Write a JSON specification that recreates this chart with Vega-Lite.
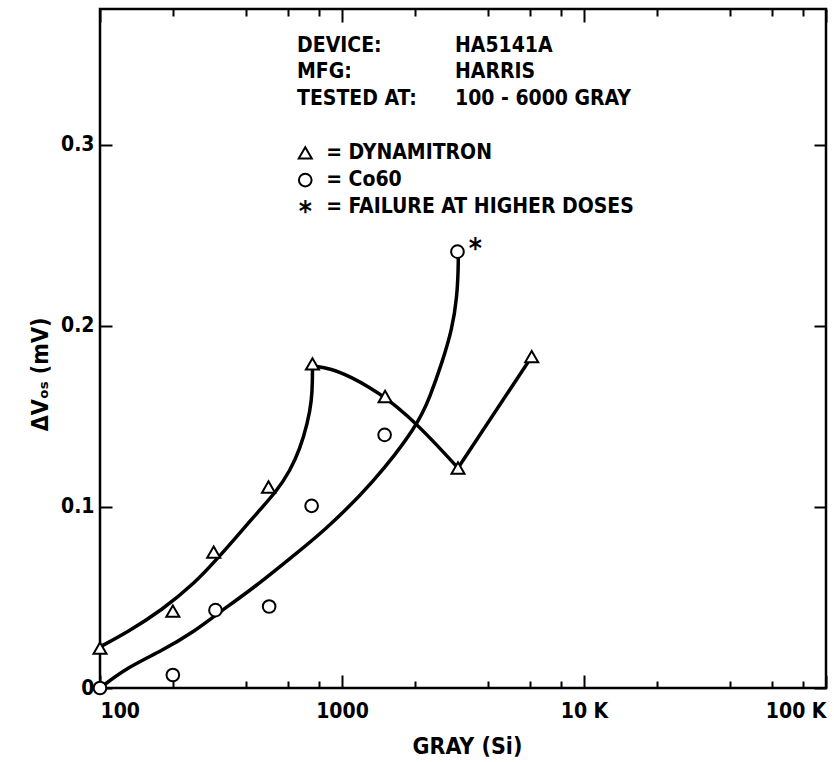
{
  "$schema": "https://vega.github.io/schema/vega-lite/v6.json",
  "width": 726,
  "height": 679,
  "autosize": {"type": "none"},
  "padding": {"left": 100, "top": 9, "right": 8, "bottom": 74},
  "background": "white",
  "config": {
    "view": {"stroke": "black", "strokeWidth": 2.5},
    "axis": {
      "domain": false,
      "grid": false,
      "tickColor": "black",
      "tickWidth": 2,
      "labelColor": "black",
      "titleColor": "black",
      "labelFont": "DejaVu Sans Condensed",
      "titleFont": "DejaVu Sans Condensed",
      "labelFontWeight": "bold",
      "titleFontWeight": "bold",
      "labelFontSize": 21,
      "titleFontSize": 23,
      "labelOverlap": false
    },
    "text": {"font": "DejaVu Sans Condensed", "fontWeight": "bold", "fontSize": 21, "color": "black"}
  },
  "datasets": {
    "curves": [
      {"s": "dyn1", "i": 1, "x": 100, "y": 0.0227},
      {"s": "dyn1", "i": 2, "x": 130.5, "y": 0.031},
      {"s": "dyn1", "i": 3, "x": 180, "y": 0.043},
      {"s": "dyn1", "i": 4, "x": 247, "y": 0.058},
      {"s": "dyn1", "i": 5, "x": 307, "y": 0.0718},
      {"s": "dyn1", "i": 6, "x": 361, "y": 0.0825},
      {"s": "dyn1", "i": 7, "x": 446, "y": 0.0967},
      {"s": "dyn1", "i": 8, "x": 538, "y": 0.1088},
      {"s": "dyn1", "i": 9, "x": 610, "y": 0.1200},
      {"s": "dyn1", "i": 10, "x": 670, "y": 0.1320},
      {"s": "dyn1", "i": 11, "x": 720, "y": 0.1460},
      {"s": "dyn1", "i": 12, "x": 750, "y": 0.1590},
      {"s": "dyn1", "i": 13, "x": 755, "y": 0.1700},
      {"s": "dyn1", "i": 14, "x": 755, "y": 0.178},
      {"s": "dyn2", "i": 1, "x": 755, "y": 0.178},
      {"s": "dyn2", "i": 2, "x": 900, "y": 0.1765},
      {"s": "dyn2", "i": 3, "x": 1100, "y": 0.1715},
      {"s": "dyn2", "i": 4, "x": 1300, "y": 0.1660},
      {"s": "dyn2", "i": 5, "x": 1507, "y": 0.1605},
      {"s": "dyn2", "i": 6, "x": 1850, "y": 0.1510},
      {"s": "dyn2", "i": 7, "x": 2400, "y": 0.1360},
      {"s": "dyn2", "i": 8, "x": 3015, "y": 0.1215},
      {"s": "dyn3", "i": 1, "x": 3015, "y": 0.1215},
      {"s": "dyn3", "i": 2, "x": 6080, "y": 0.183},
      {"s": "co60", "i": 1, "x": 100, "y": 0.0},
      {"s": "co60", "i": 2, "x": 130.5, "y": 0.0116},
      {"s": "co60", "i": 3, "x": 180, "y": 0.0205},
      {"s": "co60", "i": 4, "x": 247, "y": 0.0315},
      {"s": "co60", "i": 5, "x": 298, "y": 0.0400},
      {"s": "co60", "i": 6, "x": 437, "y": 0.0558},
      {"s": "co60", "i": 7, "x": 598, "y": 0.0707},
      {"s": "co60", "i": 8, "x": 834, "y": 0.0860},
      {"s": "co60", "i": 9, "x": 1343, "y": 0.1130},
      {"s": "co60", "i": 10, "x": 2060, "y": 0.1453},
      {"s": "co60", "i": 11, "x": 2312, "y": 0.1610},
      {"s": "co60", "i": 12, "x": 2589, "y": 0.1796},
      {"s": "co60", "i": 13, "x": 2850, "y": 0.1980},
      {"s": "co60", "i": 14, "x": 2990, "y": 0.2160},
      {"s": "co60", "i": 15, "x": 3025, "y": 0.2330},
      {"s": "co60", "i": 16, "x": 3025, "y": 0.241}
    ],
    "points": [
      {"src": "DYNAMITRON", "x": 100, "y": 0.022},
      {"src": "DYNAMITRON", "x": 200, "y": 0.0425},
      {"src": "DYNAMITRON", "x": 295, "y": 0.075},
      {"src": "DYNAMITRON", "x": 497, "y": 0.111},
      {"src": "DYNAMITRON", "x": 755, "y": 0.179},
      {"src": "DYNAMITRON", "x": 1507, "y": 0.161},
      {"src": "DYNAMITRON", "x": 3015, "y": 0.1215},
      {"src": "DYNAMITRON", "x": 6080, "y": 0.183},
      {"src": "Co60", "x": 100, "y": 0.0},
      {"src": "Co60", "x": 200, "y": 0.0072},
      {"src": "Co60", "x": 300, "y": 0.043},
      {"src": "Co60", "x": 500, "y": 0.045},
      {"src": "Co60", "x": 749, "y": 0.1006},
      {"src": "Co60", "x": 1500, "y": 0.1398},
      {"src": "Co60", "x": 3000, "y": 0.241},
      {"src": "DYNAMITRON", "x": 705, "y": 0.2955},
      {"src": "Co60", "x": 705, "y": 0.2805}
    ],
    "notes": [
      {"x": 652, "y": 0.3545, "t": "DEVICE:"},
      {"x": 2930, "y": 0.3545, "t": "HA5141A"},
      {"x": 652, "y": 0.3400, "t": "MFG:"},
      {"x": 2930, "y": 0.3400, "t": "HARRIS"},
      {"x": 652, "y": 0.3255, "t": "TESTED AT:"},
      {"x": 2930, "y": 0.3255, "t": "100 - 6000 GRAY"},
      {"x": 860, "y": 0.2955, "t": "= DYNAMITRON"},
      {"x": 860, "y": 0.2805, "t": "= Co60"},
      {"x": 860, "y": 0.2655, "t": "= FAILURE AT HIGHER DOSES"}
    ],
    "stars": [
      {"x": 705, "y": 0.2655},
      {"x": 3560, "y": 0.2450}
    ]
  },
  "layer": [
    {
      "encoding": {
        "x": {
          "field": "x", "type": "quantitative",
          "scale": {"type": "log", "domain": [100, 100000], "nice": false},
          "axis": {
            "orient": "bottom",
            "title": "GRAY (Si)",
            "titleX": 367, "titleY": 58, "titleBaseline": "middle", "titleAnchor": "middle",
            "values": [100, 200, 400, 600, 800, 1000, 2000, 4000, 6000, 8000, 10000, 20000, 40000, 60000, 80000, 100000],
            "tickSize": {"condition": {"test": "indexof([100,1000,10000,100000], datum.value) >= 0", "value": -13}, "value": -7},
            "labelExpr": "datum.value == 100 ? '100' : datum.value == 1000 ? '1000' : datum.value == 10000 ? '10 K' : datum.value == 100000 ? '100 K' : ''",
            "labelFlush": true,
            "labelBaseline": "middle",
            "labelPadding": 36
          }
        },
        "y": {
          "field": "y", "type": "quantitative",
          "scale": {"domain": [0, 0.375], "nice": false, "zero": false},
          "axis": {
            "orient": "left",
            "title": "ΔVₒₛ (mV)",
            "titleX": -60, "titleY": 365, "titleBaseline": "middle", "titleAnchor": "middle", "titleAngle": 270,
            "values": [0, 0.1, 0.2, 0.3],
            "format": ".1~f",
            "tickSize": -12,
            "labelPadding": 18,
            "labelBaseline": "middle"
          }
        }
      },
      "layer": [
        {
          "data": {"name": "curves"},
          "mark": {"type": "line", "color": "black", "strokeWidth": 3.5, "interpolate": "basis"},
          "encoding": {"detail": {"field": "s"}, "order": {"field": "i", "type": "quantitative"}}
        },
        {
          "data": {"name": "points"},
          "mark": {"type": "point", "filled": false, "fill": "white", "stroke": "black", "strokeWidth": 2, "opacity": 1},
          "encoding": {
            "shape": {"field": "src", "type": "nominal", "scale": {"domain": ["DYNAMITRON", "Co60"], "range": ["triangle-up", "circle"]}, "legend": null},
            "size": {"field": "src", "type": "nominal", "scale": {"domain": ["DYNAMITRON", "Co60"], "range": [170, 160]}, "legend": null}
          }
        },
        {
          "data": {"name": "notes"},
          "mark": {"type": "text", "align": "left", "baseline": "middle"},
          "encoding": {"text": {"field": "t"}}
        }
      ]
    },
    {
      "data": {"name": "stars"},
      "mark": {"type": "text", "align": "center", "baseline": "middle", "fontSize": 28, "dy": 6},
      "encoding": {
        "text": {"value": "*"},
        "x": {
          "field": "x", "type": "quantitative",
          "scale": {"type": "log", "domain": [100, 100000], "nice": false},
          "axis": {
            "orient": "top", "title": null, "labels": false,
            "values": [100, 200, 400, 600, 800, 1000, 2000, 4000, 6000, 8000, 10000, 20000, 40000, 60000, 80000, 100000],
            "tickSize": {"condition": {"test": "indexof([100,1000,10000,100000], datum.value) >= 0", "value": -13}, "value": -7}
          }
        },
        "y": {
          "field": "y", "type": "quantitative",
          "scale": {"domain": [0, 0.375], "nice": false, "zero": false},
          "axis": {"orient": "right", "title": null, "labels": false, "values": [0, 0.1, 0.2, 0.3], "tickSize": -12}
        }
      }
    }
  ],
  "resolve": {"axis": {"x": "independent", "y": "independent"}}
}
